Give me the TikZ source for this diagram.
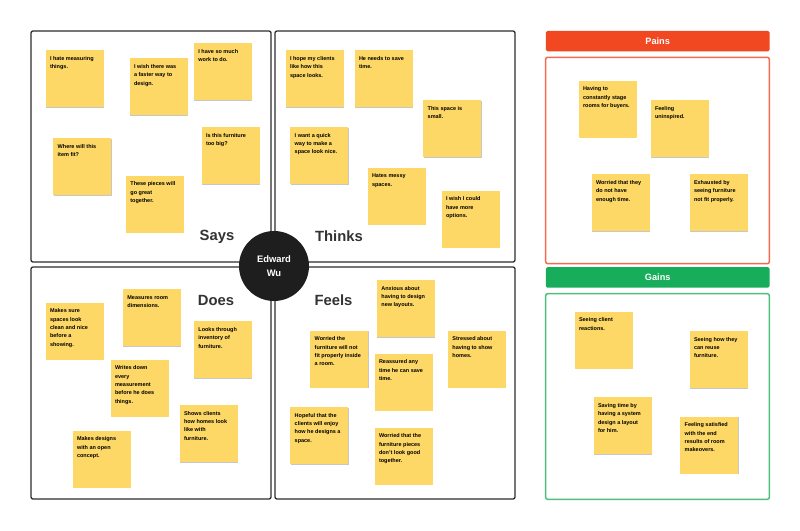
\documentclass[tikz,border=0pt]{standalone}
\usepackage{fontspec}
\setmainfont{Liberation Sans}
\usetikzlibrary{shadows}
\definecolor{stickyY}{HTML}{FDD866}
\definecolor{quadline}{HTML}{2E2E2E}
\definecolor{labelC}{HTML}{333333}
\definecolor{painH}{HTML}{F24822}
\definecolor{painB}{HTML}{F26A4F}
\definecolor{gainH}{HTML}{17AD5B}
\definecolor{gainB}{HTML}{4EBF7F}
\definecolor{circC}{HTML}{1E1E1E}
\newcommand{\stk}[1]{\parbox[t][44pt][t]{49pt}{\raggedright #1}}
\tikzset{
  quad/.style={draw=quadline, line width=1.3pt, rounded corners=2pt},
  sidebox/.style={line width=1.5pt, rounded corners=2pt},
  sticky/.style={rectangle, fill=stickyY, anchor=north west, inner xsep=4.5pt, inner ysep=6.5pt,
     drop shadow={shadow xshift=0.5pt, shadow yshift=-0.9pt, fill=black, opacity=0.22},
     font=\fontsize{5.5}{8.3}\selectfont\bfseries, text=black},
  qlabel/.style={font=\fontsize{14.8}{16}\selectfont\bfseries, text=labelC, inner sep=0pt},
  header/.style={rectangle, rounded corners=1.5pt, minimum width=223.6pt, minimum height=20.5pt,
     anchor=north west, inner sep=0pt, text=white, font=\fontsize{9.2}{11}\selectfont\bfseries},
}
\begin{document}
\begin{tikzpicture}[x=1pt,y=-1pt]
\useasboundingbox[fill=white] (0,0) rectangle (800,530);
% quadrants
\draw[quad] (31,31) rectangle (271,262);
\draw[quad] (275,31) rectangle (515,262);
\draw[quad] (31,267) rectangle (271,499);
\draw[quad] (275,267) rectangle (515,499);
% side boxes
\node[header, fill=painH] (painsh) at (545.7,30.7) {Pains};
\draw[sidebox, draw=painB] (545.7,57.3) rectangle (769.3,263.7);
\node[header, fill=gainH] (gainsh) at (545.7,267) {Gains};
\draw[sidebox, draw=gainB] (545.7,293.7) rectangle (769.3,499.3);
% labels
\node[qlabel] (says) at (217,236.5) {Says};
\node[qlabel] (thinks) at (339,236.5) {Thinks};
\node[qlabel] (does) at (216,300) {Does};
\node[qlabel] (feels) at (333.5,300) {Feels};
% Says
\node[sticky] (s1) at (45.3,50) {\stk{I hate measuring\\things.}};
\node[sticky] (s2) at (129.3,58) {\stk{I wish there was\\a faster way to\\design.}};
\node[sticky] (s3) at (193.7,42.7) {\stk{I have so much\\work to do.}};
\node[sticky] (s4) at (53,137.7) {\stk{Where will this\\item fit?}};
\node[sticky] (s5) at (201.3,126.7) {\stk{Is this furniture\\too big?}};
\node[sticky] (s6) at (125.7,175.3) {\stk{These pieces will\\go great\\together.}};
% Thinks
\node[sticky] (t1) at (285.3,50) {\stk{I hope my clients\\like how this\\space looks.}};
\node[sticky] (t2) at (354.3,50) {\stk{He needs to save\\time.}};
\node[sticky] (t3) at (423,99.7) {\stk{This space is\\small.}};
\node[sticky] (t4) at (290,126.7) {\stk{I want a quick\\way to make a\\space look nice.}};
\node[sticky] (t5) at (367.3,167.3) {\stk{Hates messy\\spaces.}};
\node[sticky] (t6) at (441.3,190.3) {\stk{I wish I could\\have more\\options.}};
% Does
\node[sticky] (d1) at (45.3,302.3) {\stk{Makes sure\\spaces look\\clean and nice\\before a\\showing.}};
\node[sticky] (d2) at (122.7,288.7) {\stk{Measures room\\dimensions.}};
\node[sticky] (d3) at (193.7,321) {\stk{Looks through\\inventory of\\furniture.}};
\node[sticky] (d4) at (110.3,359.3) {\stk{Writes down\\every\\measurement\\before he does\\things.}};
\node[sticky] (d5) at (179.3,404.7) {\stk{Shows clients\\how homes look\\like with\\furniture.}};
\node[sticky] (d6) at (72.3,430.3) {\stk{Makes designs\\with an open\\concept.}};
% Feels
\node[sticky] (f1) at (376.7,279.7) {\stk{Anxious about\\having to design\\new layouts.}};
\node[sticky] (f2) at (310,330.3) {\stk{Worried the\\furniture will not\\fit properly inside\\a room.}};
\node[sticky] (f3) at (447.7,330.3) {\stk{Stressed about\\having to show\\homes.}};
\node[sticky] (f4) at (374.3,353.3) {\stk{Reassured any\\time he can save\\time.}};
\node[sticky] (f5) at (290,406.7) {\stk{Hopeful that the\\clients will enjoy\\how he designs a\\space.}};
\node[sticky] (f6) at (374.3,427.3) {\stk{Worried that the\\furniture pieces\\don't look good\\together.}};
% Pains
\node[sticky] (p1) at (578.3,80.3) {\stk{Having to\\constantly stage\\rooms for buyers.}};
\node[sticky] (p2) at (650.3,99.7) {\stk{Feeling\\uninspired.}};
\node[sticky] (p3) at (591.3,174) {\stk{Worried that they\\do not have\\enough time.}};
\node[sticky] (p4) at (689.3,174) {\stk{Exhausted by\\seeing furniture\\not fit properly.}};
% Gains
\node[sticky] (g1) at (574.3,311.3) {\stk{Seeing client\\reactions.}};
\node[sticky] (g2) at (689.3,330.7) {\stk{Seeing how they\\can reuse\\furniture.}};
\node[sticky] (g3) at (593.3,397) {\stk{Saving time by\\having a system\\design a layout\\for him.}};
\node[sticky] (g4) at (680,416.3) {\stk{Feeling satisfied\\with the end\\results of room\\makeovers.}};
% center
\node[circle, fill=circC, minimum size=70pt, inner sep=0pt, align=center, text=white,
  font=\fontsize{9.4}{14}\selectfont\bfseries] (persona) at (274,266) {Edward\\Wu};
\end{tikzpicture}
\end{document}
